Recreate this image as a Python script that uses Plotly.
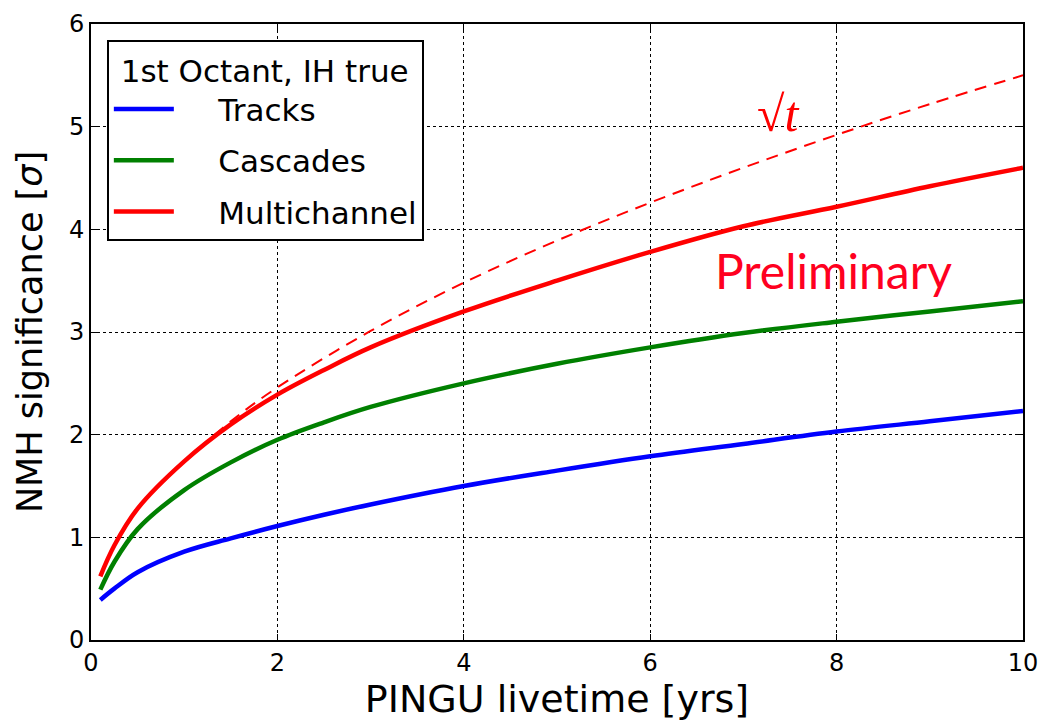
import plotly.graph_objects as go

years = [0.1, 0.25, 0.5, 1.0, 1.5, 2.0, 2.5, 3.0, 4.0, 5.0, 6.0, 7.0, 8.0, 9.0, 10.0]
tracks = [0.39, 0.50, 0.66, 0.86, 0.99, 1.11, 1.22, 1.32, 1.50, 1.65, 1.79, 1.91, 2.03, 2.13, 2.23]
cascades = [0.49, 0.76, 1.08, 1.46, 1.73, 1.95, 2.12, 2.27, 2.50, 2.69, 2.85, 2.99, 3.10, 3.20, 3.30]
multichannel = [0.62, 0.92, 1.28, 1.74, 2.10, 2.39, 2.63, 2.85, 3.20, 3.50, 3.78, 4.03, 4.22, 4.42, 4.60]

sqrt_years = [1.0, 1.5, 2.0, 3.0, 4.0, 5.0, 6.0, 7.0, 8.0, 9.0, 10.0]
sqrt_ref = [1.74, 2.13, 2.46, 3.01, 3.48, 3.89, 4.26, 4.60, 4.92, 5.22, 5.50]

x_ticks = [0, 2, 4, 6, 8, 10]
y_ticks = [0, 1, 2, 3, 4, 5, 6]

fig = go.Figure()
fig.add_trace(go.Scatter(x=sqrt_years, y=sqrt_ref, mode="lines", showlegend=False,
                         line=dict(color="#ff0000", width=2, dash="12px,8px", shape="spline")))
fig.add_trace(go.Scatter(x=years, y=tracks, mode="lines", name="    Tracks", legendgroup="a",
                         line=dict(color="#0000ff", width=4.5, shape="spline")))
fig.add_trace(go.Scatter(x=years, y=cascades, mode="lines", name="    Cascades", legendgroup="b",
                         line=dict(color="#008000", width=4.5, shape="spline")))
fig.add_trace(go.Scatter(x=years, y=multichannel, mode="lines", name="    Multichannel", legendgroup="c",
                         line=dict(color="#ff0000", width=4.5, shape="spline")))

fig.add_annotation(x=7.97, y=3.6, xref="x", yref="y", text="Preliminary", showarrow=False,
                   font=dict(family="Lato, Liberation Sans, sans-serif", size=48, color="#ff0020"))
fig.add_annotation(x=7.37, y=5.12, xref="x", yref="y", text="√<i>t</i>", showarrow=False,
                   font=dict(family="Liberation Serif, serif", size=50, color="#ff0000"))

axis_common = dict(showline=True, linecolor="black", linewidth=2, mirror="ticks",
                   ticks="inside", ticklen=6, tickcolor="black", tickwidth=1,
                   showgrid=True, gridcolor="black", griddash="dot", gridwidth=1,
                   zeroline=False, automargin=False, ticklabeloverflow="allow",
                   tickfont=dict(family="DejaVu Sans", size=24, color="black"))

fig.update_layout(
    width=1046, height=721,
    paper_bgcolor="white", plot_bgcolor="white",
    margin=dict(l=83, r=31, t=16, b=89),
    xaxis=dict(range=[0, 10], tickvals=x_ticks,
               title=dict(text="PINGU livetime [yrs]", font=dict(family="DejaVu Sans", size=38, color="black"), standoff=2),
               **axis_common),
    yaxis=dict(range=[0, 6], tickvals=y_ticks,
               title=dict(text="NMH significance [<i>σ</i>]", font=dict(family="DejaVu Sans", size=35, color="black"), standoff=16),
               **axis_common),
    legend=dict(x=0.017, y=0.974, xanchor="left", yanchor="top",
                bgcolor="white", bordercolor="black", borderwidth=2,
                font=dict(family="DejaVu Sans", size=31, color="black"),
                title=dict(text=" 1st Octant, IH true", font=dict(family="DejaVu Sans", size=31, color="black")),
                tracegroupgap=8, itemwidth=60),
)

fig.write_html("out.html")
